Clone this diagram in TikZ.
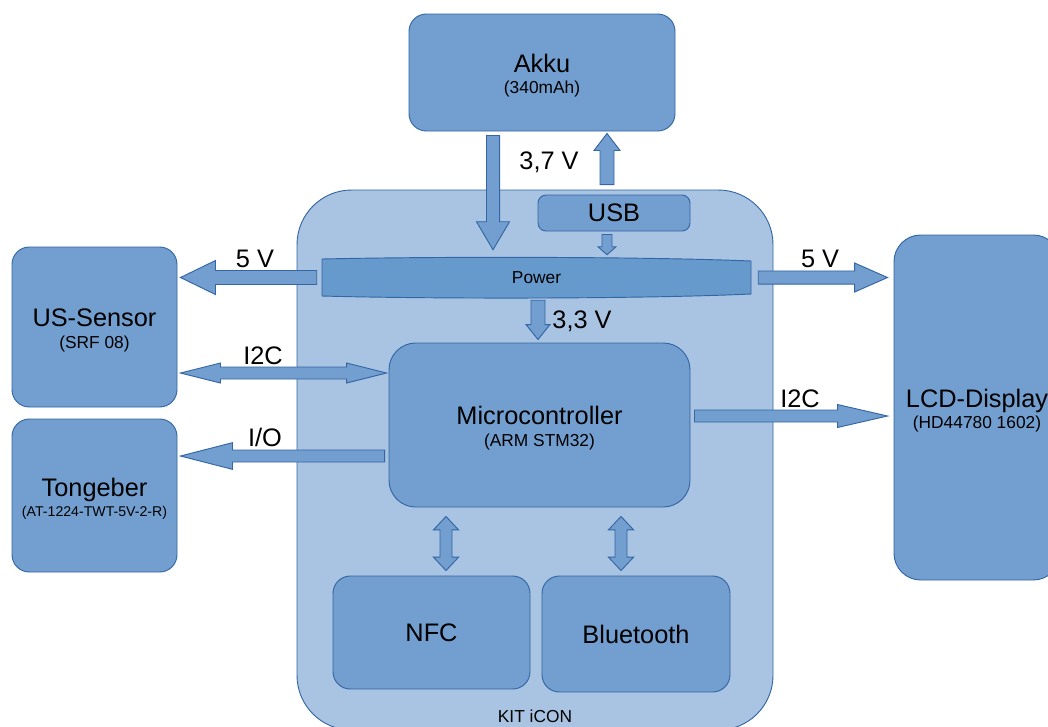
\documentclass[tikz,border=0pt]{standalone}
\usepackage{fontspec}
\setmainfont{Liberation Sans}
\usetikzlibrary{calc}
\definecolor{boxfill}{HTML}{729FCF}
\definecolor{kitfill}{HTML}{A9C4E2}
\definecolor{powfill}{HTML}{6699CC}
\definecolor{boxline}{HTML}{3465A4}
\newcommand{\largetxt}{\fontsize{19}{22}\selectfont}
\newcommand{\smalltxt}{\fontsize{13}{15}\selectfont}
\newcommand{\tinytxt}{\fontsize{10.6}{13}\selectfont}
\newcommand{\liftrule}{\rule{0pt}{18.5pt}}
\tikzset{
  blk/.style={draw=boxline, fill=boxfill, line width=0.7pt, rounded corners=13pt,
    align=center, inner sep=0pt, font=\largetxt},
  lbl/.style={font=\largetxt, inner sep=0pt},
  shw/.store in=\shw, hwid/.store in=\hwid, hlen/.store in=\hlen,
  sgap/.store in=\sgap, egap/.store in=\egap,
  agap/.style={sgap=#1, egap=#1},
  arrowbase/.style={draw=boxline, fill=boxfill, line width=0.7pt,
    shw=4.5pt, hwid=9pt, hlen=12pt, agap=3pt},
  barrow/.style={arrowbase, to path={
    ($(\tikztostart)!\sgap!(\tikztotarget)!\shw!90:(\tikztotarget)$)
    -- ($(\tikztotarget)!\egap+\hlen!(\tikztostart)!\shw!-90:(\tikztostart)$)
    -- ($(\tikztotarget)!\egap+\hlen!(\tikztostart)!\hwid!-90:(\tikztostart)$)
    -- ($(\tikztotarget)!\egap!(\tikztostart)$)
    -- ($(\tikztotarget)!\egap+\hlen!(\tikztostart)!\hwid!90:(\tikztostart)$)
    -- ($(\tikztotarget)!\egap+\hlen!(\tikztostart)!\shw!90:(\tikztostart)$)
    -- ($(\tikztostart)!\sgap!(\tikztotarget)!\shw!-90:(\tikztotarget)$)
    -- cycle}},
  dbarrow/.style={arrowbase, to path={
    ($(\tikztostart)!\sgap!(\tikztotarget)$)
    -- ($(\tikztostart)!\sgap+\hlen!(\tikztotarget)!\hwid!90:(\tikztotarget)$)
    -- ($(\tikztostart)!\sgap+\hlen!(\tikztotarget)!\shw!90:(\tikztotarget)$)
    -- ($(\tikztotarget)!\egap+\hlen!(\tikztostart)!\shw!-90:(\tikztostart)$)
    -- ($(\tikztotarget)!\egap+\hlen!(\tikztostart)!\hwid!-90:(\tikztostart)$)
    -- ($(\tikztotarget)!\egap!(\tikztostart)$)
    -- ($(\tikztotarget)!\egap+\hlen!(\tikztostart)!\hwid!90:(\tikztostart)$)
    -- ($(\tikztotarget)!\egap+\hlen!(\tikztostart)!\shw!90:(\tikztostart)$)
    -- ($(\tikztostart)!\sgap+\hlen!(\tikztotarget)!\shw!-90:(\tikztotarget)$)
    -- ($(\tikztostart)!\sgap+\hlen!(\tikztotarget)!\hwid!-90:(\tikztotarget)$)
    -- cycle}}
}

\begin{document}
\begin{tikzpicture}[x=0.75pt, y=-0.75pt]
    \useasboundingbox (0,0) rectangle (1048,726);

    % the kit housing
    \node[blk, fill=kitfill, rounded corners=41pt, minimum width=357pt, minimum height=405pt] (kit) at (535,460) {};
    \node[font=\smalltxt, inner sep=0pt] (kitlbl) at (535,716) {KIT iCON};

    % power rail
    \draw[draw=boxline, fill=powfill, line width=0.7pt] (322,259) .. controls (430,256.5) and (643,256.5) .. (751,261)
        -- (751,294) .. controls (643,299) and (430,299) .. (322,296) -- cycle;
    \node[font=\smalltxt, inner sep=0pt, minimum width=321.75pt, minimum height=29.25pt] (power) at (536.5,277.5) {Power};

    % blocks
    \node[blk, minimum width=199.5pt, minimum height=87.75pt] (akku) at (542,72.5) {\liftrule Akku\\[-6pt]\smalltxt (340mAh)};
    \node[blk, rounded corners=6pt, minimum width=114pt, minimum height=27pt] (usb) at (614,213) {USB};
    \node[blk, minimum width=123.75pt, minimum height=120pt] (ussensor) at (94.5,327) {\liftrule US-Sensor\\[-6pt]\smalltxt (SRF 08)};
    \node[blk, minimum width=123.75pt, minimum height=114.75pt] (tongeber) at (94.5,495.5) {\liftrule Tongeber\\[-7pt]\tinytxt (AT-1224-TWT-5V-2-R)};
    \node[blk, rounded corners=20pt, minimum width=124.5pt, minimum height=258.75pt] (lcd) at (977,407.5) {\liftrule LCD-Display\\[-6pt]\smalltxt (HD44780 1602)};
    \node[blk, rounded corners=20pt, minimum width=225.75pt, minimum height=123pt] (mcu) at (539.5,425) {\liftrule Microcontroller\\[-6pt]\smalltxt (ARM STM32)};
    \node[blk, minimum width=147.75pt, minimum height=84.75pt] (nfc) at (431.5,632.5) {NFC};
    \node[blk, minimum width=141pt, minimum height=87pt] (bt) at (636,634) {Bluetooth};

    % where the arrows run
    \coordinate (xakku) at (493,0);
    \coordinate (xusb) at (607,0);
    \coordinate (xmcu) at (538,0);
    \coordinate (xnfc) at (446,0);
    \coordinate (xbt) at (621,0);
    \coordinate (yi2cl) at (0,373);
    \coordinate (yio) at (0,456);
    \coordinate (yi2cr) at (0,416);

    % supply
    \draw[barrow, shw=4.9pt, hwid=12.4pt, hlen=21pt, sgap=3pt, egap=6pt] (akku.south -| xakku) to (power.north -| xakku);
    \draw[barrow, shw=5.25pt, hwid=9.75pt, hlen=12.75pt, sgap=7.5pt, egap=1.5pt] (usb.north -| xusb) to (akku.south -| xusb);
    \draw[barrow, shw=3.75pt, hwid=6.75pt, hlen=6pt, agap=2.25pt] (usb.south -| xusb) to (power.north -| xusb);
    \draw[barrow, shw=5.25pt, hwid=12.75pt, hlen=26.25pt, sgap=3.75pt, egap=2.25pt] (power.west) to (ussensor.east |- power.west);
    \draw[barrow, shw=4.9pt, hwid=10.9pt, hlen=24.75pt, sgap=5.25pt, egap=4.5pt] (power.east) to (lcd.west |- power.east);
    \draw[barrow, shw=5.25pt, hwid=9pt, hlen=11.25pt, agap=2.25pt] (power.south -| xmcu) to (mcu.north -| xmcu);

    % signals
    \draw[dbarrow, shw=4.5pt, hwid=7.5pt, hlen=30pt, sgap=2.25pt, egap=1.5pt] (ussensor.east |- yi2cl) to (mcu.west |- yi2cl);
    \draw[barrow, shw=4.5pt, hwid=10pt, hlen=39pt, sgap=3pt, egap=2.25pt] (mcu.west |- yio) to (tongeber.east |- yio);
    \draw[barrow, shw=4.5pt, hwid=8.6pt, hlen=37.5pt, sgap=3pt, egap=4.5pt] (mcu.east |- yi2cr) to (lcd.west |- yi2cr);
    \draw[dbarrow, shw=4.5pt, hwid=9.4pt, hlen=10pt, sgap=6.75pt, egap=3.75pt] (mcu.south -| xnfc) to (nfc.north -| xnfc);
    \draw[dbarrow, shw=4.5pt, hwid=9.4pt, hlen=10pt, sgap=6.75pt, egap=3.75pt] (mcu.south -| xbt) to (bt.north -| xbt);

    % labels
    \node[lbl] (l37) at (549,162) {3,7 V};
    \node[lbl] (l5vl) at (255,259) {5 V};
    \node[lbl] (l5vr) at (820,259) {5 V};
    \node[lbl] (l33) at (582,321) {3,3 V};
    \node[lbl] (li2cl) at (263,356) {I2C};
    \node[lbl] (lio) at (265,437) {I/O};
    \node[lbl] (li2cr) at (800,399) {I2C};
\end{tikzpicture}
\end{document}
